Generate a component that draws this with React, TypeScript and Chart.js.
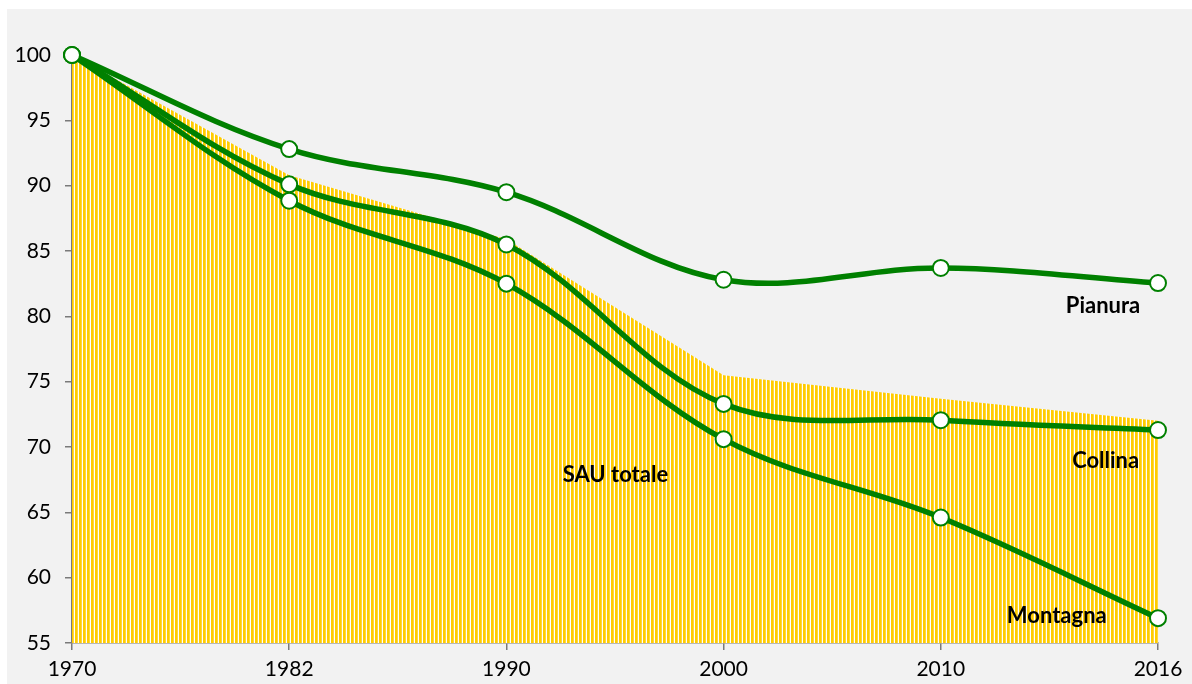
import React, { useEffect, useRef } from "react";
import { Chart, registerables } from "chart.js";

Chart.register(...registerables);

const years = ["1970", "1982", "1990", "2000", "2010", "2016"];
const sauTotale = [100, 90.8, 85.9, 75.5, 73.7, 72.0];
const pianura = [100, 92.8, 89.5, 82.8, 83.7, 82.55];
const collina = [100, 90.1, 85.5, 73.3, 72.05, 71.3];
const montagna = [100, 88.85, 82.5, 70.6, 64.6, 56.9];

const labelTexts = ["Pianura", "Collina", "Montagna", "SAU totale"];
const labelXIndex = [4.747, 4.759, 4.534, 2.502];
const labelYValue = [80.8, 68.9, 57.1, 67.9];

const GREEN = "#008000";
const AXIS = "#7a7a7a";

function makeStripePattern(): CanvasPattern | string {
  const tile = document.createElement("canvas");
  tile.width = 4;
  tile.height = 1;
  const c = tile.getContext("2d");
  if (!c) return "#FFCC00";
  const cols = ["#FFCC00", "#FFCC00", "#FFD640", "#FFFFFF"];
  cols.forEach((col, i) => {
    c.fillStyle = col;
    c.fillRect(i, 0, 1, 1);
  });
  const main = document.createElement("canvas").getContext("2d");
  const p = main ? main.createPattern(tile, "repeat") : null;
  return p || "#FFCC00";
}

const labelsPlugin = {
  id: "seriesLabels",
  afterDatasetsDraw(chart: any) {
    const { ctx, scales } = chart;
    ctx.save();
    ctx.font = "bold 22px Lato";
    ctx.fillStyle = "#000";
    ctx.textAlign = "center";
    ctx.textBaseline = "middle";
    labelTexts.forEach((t, i) => {
      const x = scales.x.getPixelForValue(labelXIndex[i]);
      const y = scales.y.getPixelForValue(labelYValue[i]);
      ctx.fillText(t, x, y);
    });
    ctx.restore();
  },
};

export default function App() {
  const ref = useRef<HTMLCanvasElement | null>(null);

  useEffect(() => {
    if (!ref.current) return;
    const pattern = makeStripePattern();
    const lineDs = (label: string, data: number[]) => ({
      label,
      data,
      borderColor: GREEN,
      borderWidth: 5.5,
      tension: 0.35,
      fill: false,
      clip: false as any,
      pointRadius: 8,
      pointBorderWidth: 2,
      pointBorderColor: GREEN,
      pointBackgroundColor: "#ffffff",
      order: 0,
    });
    const chart = new Chart(ref.current, {
      type: "line",
      data: {
        labels: years,
        datasets: [
          lineDs("Pianura", pianura),
          lineDs("Collina", collina),
          lineDs("Montagna", montagna),
          {
            label: "SAU totale",
            data: sauTotale,
            borderWidth: 0,
            borderColor: "rgba(0,0,0,0)",
            backgroundColor: pattern as any,
            fill: "start",
            tension: 0,
            pointRadius: 0,
            order: 10,
          },
        ],
      },
      options: {
        animation: false,
        responsive: false,
        events: [],
        layout: { padding: { top: 46, right: 34, left: 0, bottom: 0 } },
        plugins: {
          legend: { display: false },
          tooltip: { enabled: false },
        },
        scales: {
          x: {
            type: "category",
            offset: false,
            afterFit: (s: any) => {
              s.height = 41;
            },
            grid: {
              display: true,
              drawOnChartArea: false,
              drawTicks: true,
              tickLength: 7,
              color: AXIS,
              lineWidth: 1.5,
            },
            border: { display: true, color: AXIS, width: 1.5 },
            ticks: {
              color: "#000",
              font: { family: "Lato", size: 21 },
              padding: 7,
              maxRotation: 0,
              autoSkip: false,
            },
          },
          y: {
            min: 55,
            max: 100,
            afterFit: (s: any) => {
              s.width = 65;
            },
            grid: {
              display: true,
              drawOnChartArea: false,
              drawTicks: true,
              tickLength: 7,
              color: AXIS,
              lineWidth: 1.5,
            },
            border: { display: true, color: AXIS, width: 1.5 },
            ticks: {
              stepSize: 5,
              color: "#000",
              font: { family: "Lato", size: 21 },
              padding: 14,
            },
          },
        },
      },
      plugins: [labelsPlugin],
    });
    return () => chart.destroy();
  }, []);

  return (
    <div
      style={{
        position: "fixed",
        left: 7,
        top: 9,
        width: 1185,
        height: 675,
        background: "#F2F2F2",
      }}
    >
      <canvas ref={ref} width={1185} height={675} style={{ display: "block" }} />
    </div>
  );
}
